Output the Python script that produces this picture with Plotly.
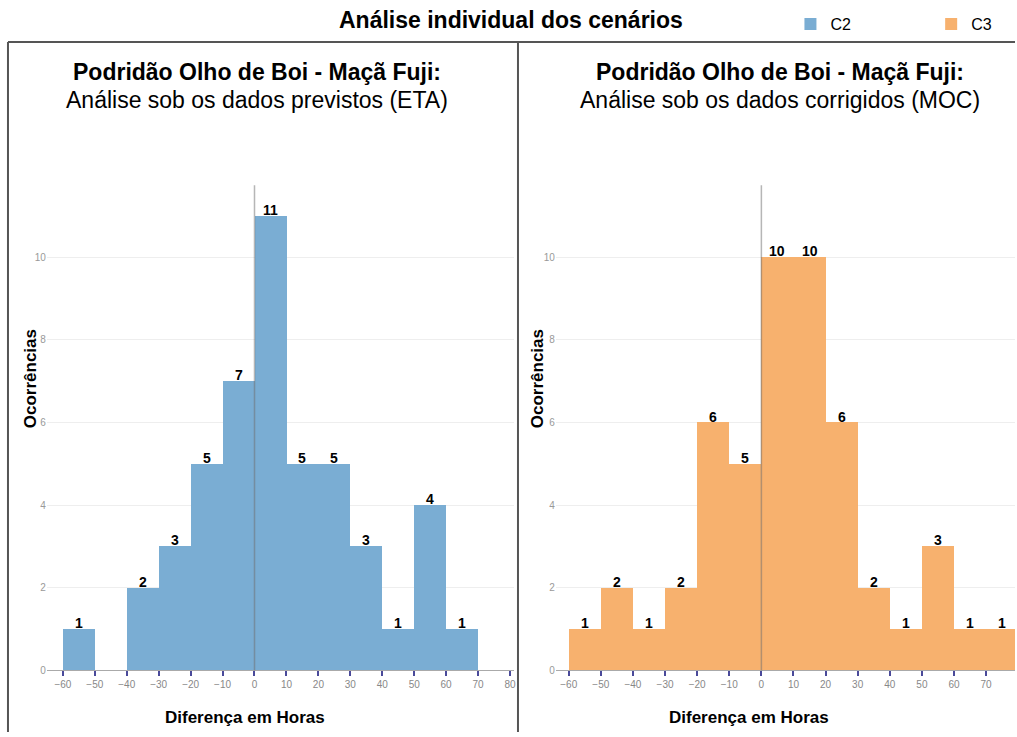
import plotly.graph_objects as go

bin_left = [-60, -50, -40, -30, -20, -10, 0, 10, 20, 30, 40, 50, 60, 70]
c2_counts = [1, 0, 2, 3, 5, 7, 11, 5, 5, 3, 1, 4, 1, 0]
c3_counts = [1, 2, 1, 2, 6, 5, 10, 10, 6, 2, 1, 3, 1, 1]
x_ticks = [-60, -50, -40, -30, -20, -10, 0, 10, 20, 30, 40, 50, 60, 70, 80]
y_ticks = [0, 2, 4, 6, 8, 10]

BLUE = "rgb(122,173,211)"
ORANGE = "rgb(247,177,110)"
FONT = "Liberation Sans, Arial, sans-serif"
W, H = 1017, 737
SY = 0.9925  # observed vertical render scale

def px(x):
    return x / W

def py(y):
    return (H - y / SY) / H

centers = [b + 5 for b in bin_left]

fig = go.Figure()
fig.add_trace(go.Bar(
    x=centers, y=c2_counts, width=10, name="C2", legend="legend",
    marker=dict(color=BLUE, line=dict(width=0)),
    xaxis="x", yaxis="y", hoverinfo="skip",
))
fig.add_trace(go.Bar(
    x=centers, y=c3_counts, width=10, name="C3", legend="legend2",
    marker=dict(color=ORANGE, line=dict(width=0)),
    xaxis="x2", yaxis="y2", hoverinfo="skip",
))

ymax = (670 - 185) / 41.3
xcommon = dict(
    tickvals=x_ticks, ticks="outside", ticklen=5, tickwidth=2, tickcolor="#4a4a9a",
    showline=True, linecolor="#aaaaaa", linewidth=1, showgrid=False, zeroline=False,
    tickfont=dict(family=FONT, size=10, color="#888888"),
)
ycommon = dict(
    tickvals=y_ticks, range=[0, ymax], showgrid=True, gridcolor="#eeeeee",
    zeroline=False, showline=False, ticks="",
    tickfont=dict(family=FONT, size=10, color="#999999"),
)

legcommon = dict(orientation="h", xanchor="left", yanchor="top",
                 font=dict(family=FONT, size=16, color="black"),
                 bgcolor="rgba(0,0,0,0)")

fig.update_layout(
    width=W, height=H, margin=dict(l=0, r=0, t=0, b=0),
    plot_bgcolor="white", paper_bgcolor="white",
    bargap=0, showlegend=True,
    xaxis=dict(domain=[px(47), px(515)], range=[-65, 81.25], anchor="y", **xcommon),
    yaxis=dict(domain=[py(670), py(185)], anchor="x", **ycommon),
    xaxis2=dict(domain=[px(557), 1.0], range=[-64, 79], anchor="y2", **xcommon),
    yaxis2=dict(domain=[py(670), py(185)], anchor="x2", **ycommon),
    legend=dict(x=px(792), y=py(7), **legcommon),
    legend2=dict(x=px(933), y=py(7), **legcommon),
)

shapes = []
# zero lines
for xr, yr in (("x", "y domain"), ("x2", "y2 domain")):
    shapes.append(dict(type="line", xref=xr, yref=yr, x0=0, x1=0, y0=0, y1=1,
                       line=dict(color="rgba(110,110,110,0.5)", width=1.5), layer="above"))
# panel borders
border = dict(color="#555555", width=2)
shapes.append(dict(type="line", xref="paper", yref="paper", x0=px(8), x1=px(8), y0=0, y1=py(42), line=border))
shapes.append(dict(type="line", xref="paper", yref="paper", x0=px(8), x1=1, y0=py(42), y1=py(42), line=border))
shapes.append(dict(type="line", xref="paper", yref="paper", x0=px(519), x1=px(519), y0=0, y1=py(42), line=border))
fig.update_layout(shapes=shapes)

ann = []
# value labels on bars
for xr, yr, counts in (("x", "y", c2_counts), ("x2", "y2", c3_counts)):
    for cx, v in zip(centers, counts):
        if v:
            ann.append(dict(text=f"<b>{v}</b>", x=cx, y=v, xref=xr, yref=yr, showarrow=False,
                            xanchor="center", yanchor="middle", yshift=6,
                            font=dict(family=FONT, size=14, color="black")))
ann.append(dict(text="<b>Análise individual dos cenários</b>", x=px(512), y=py(20), xref="paper", yref="paper",
                showarrow=False, font=dict(family=FONT, size=23, color="black"), xanchor="center", yanchor="middle"))
for cx, sub in ((258, "Análise sob os dados previstos (ETA)"), (782, "Análise sob os dados corrigidos (MOC)")):
    ann.append(dict(text="<b>Podridão Olho de Boi - Maçã Fuji:</b>", x=px(cx), y=py(72), xref="paper", yref="paper",
                    showarrow=False, font=dict(family=FONT, size=23, color="black"), xanchor="center", yanchor="middle"))
    ann.append(dict(text=sub, x=px(cx), y=py(100), xref="paper", yref="paper",
                    showarrow=False, font=dict(family=FONT, size=23, color="black"), xanchor="center", yanchor="middle"))
for cx in (245, 750):
    ann.append(dict(text="<b>Diferença em Horas</b>", x=px(cx), y=py(717), xref="paper", yref="paper",
                    showarrow=False, font=dict(family=FONT, size=17, color="black"), xanchor="center", yanchor="middle"))
for cx in (30, 538):
    ann.append(dict(text="<b>Ocorrências</b>", x=px(cx), y=py(378), xref="paper", yref="paper", textangle=-90,
                    showarrow=False, font=dict(family=FONT, size=17, color="black"), xanchor="center", yanchor="middle"))
fig.update_layout(annotations=ann)

fig.write_html(
    "out.html",
    config={"displayModeBar": False},
    post_script="document.body.style.margin='0';document.body.style.overflow='hidden';"
                "document.documentElement.style.overflow='hidden';",
)
